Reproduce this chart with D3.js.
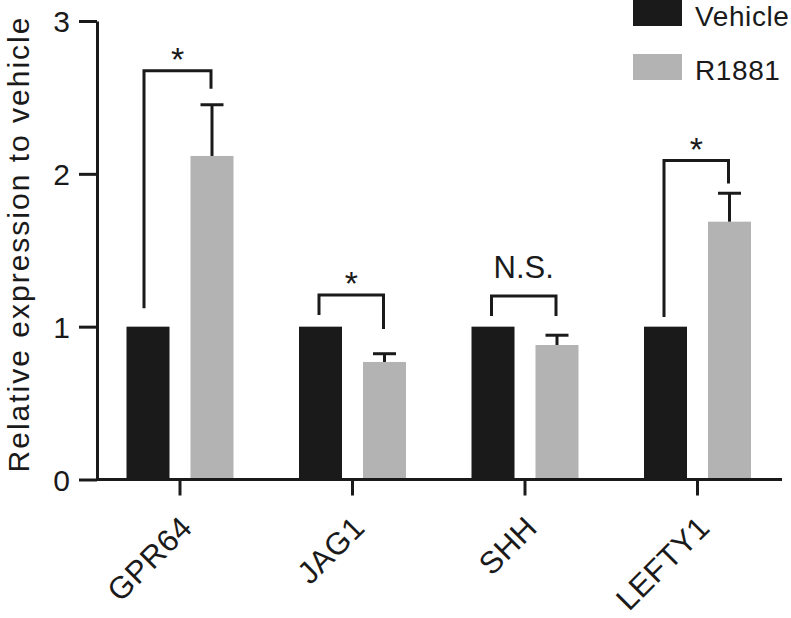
<!DOCTYPE html>
<html>
<head>
<meta charset="utf-8">
<script src="https://cdn.jsdelivr.net/npm/d3@7"></script>
<style>
  html, body { margin: 0; padding: 0; background: #fff; }
  svg { display: block; font-family: "Liberation Sans", Arial, sans-serif; }
</style>
</head>
<body>
<div class="chart"></div>
<script>
// data
const genes = ["GPR64", "JAG1", "SHH", "LEFTY1"];
const groups = ["Vehicle", "R1881"];
const vehicle = [1, 1, 1, 1];
const r1881 = [2.117, 0.769, 0.880, 1.687];
const r1881Err = [0.335, 0.054, 0.064, 0.186];
const yTicks = [0, 1, 2, 3];
const sigLabels = ["*", "*", "N.S.", "*"];
// bracket levels (data units): top line, left leg end, right leg end
const bracketTop = [2.675, 1.207, 1.200, 2.087];
const bracketLeft = [1.12, 1.076, 1.07, 1.063];
const bracketRight = [2.557, 0.985, 1.07, 1.937];

const width = 791, height = 618;
const colors = {Vehicle: "#1a1a1a", R1881: "#b3b3b3"};
const ink = "#1a1a1a";

const svg = d3.select(".chart").append("svg")
    .attr("width", width)
    .attr("height", height);

const y = d3.scaleLinear().domain([0, 3]).range([479.5, 21]);

const x0 = d3.scaleBand().domain(genes).range([93.75, 783.75]);
const x1 = d3.scaleBand().domain(groups).range([0, 107]).paddingInner(0.328);
const off = (x0.bandwidth() - 107) / 2;

const rows = genes.map((g, i) => ({
    gene: g,
    values: [
        {group: "Vehicle", value: vehicle[i], err: 0},
        {group: "R1881", value: r1881[i], err: r1881Err[i]}
    ]
}));

// bars
const grp = svg.append("g").selectAll("g")
    .data(rows)
    .join("g")
    .attr("transform", d => `translate(${x0(d.gene) + off},0)`);

grp.selectAll("rect")
    .data(d => d.values)
    .join("rect")
    .attr("x", d => x1(d.group))
    .attr("y", d => y(d.value))
    .attr("width", x1.bandwidth())
    .attr("height", d => y(0) - y(d.value))
    .attr("fill", d => colors[d.group]);

// error bars (upper only)
const eb = grp.selectAll("g.err")
    .data(d => d.values.filter(v => v.err > 0))
    .join("g")
    .attr("class", "err")
    .attr("stroke", ink)
    .attr("stroke-width", 3);
eb.append("line")
    .attr("x1", d => x1(d.group) + x1.bandwidth() / 2)
    .attr("x2", d => x1(d.group) + x1.bandwidth() / 2)
    .attr("y1", d => y(d.value))
    .attr("y2", d => y(d.value + d.err));
eb.append("line")
    .attr("x1", d => x1(d.group) + x1.bandwidth() / 2 - 11.5)
    .attr("x2", d => x1(d.group) + x1.bandwidth() / 2 + 11.5)
    .attr("y1", d => y(d.value + d.err))
    .attr("y2", d => y(d.value + d.err));

// significance brackets
const cx = (g, grpName) => x0(g) + off + x1(grpName) + x1.bandwidth() / 2;
genes.forEach((g, i) => {
    const xl = cx(g, "Vehicle") - (i === 0 ? 4 : 1.5);
    const xr = cx(g, "R1881") - 1;
    svg.append("path")
        .attr("d", d3.line()([
            [xl, y(bracketLeft[i])],
            [xl, y(bracketTop[i])],
            [xr, y(bracketTop[i])],
            [xr, y(bracketRight[i])]
        ]))
        .attr("fill", "none")
        .attr("stroke", ink)
        .attr("stroke-width", 3);
    const ns = sigLabels[i] !== "*";
    svg.append("text")
        .attr("x", (xl + xr) / 2)
        .attr("y", y(bracketTop[i]) - (ns ? 18 : 0))
        .attr("text-anchor", "middle")
        .attr("font-size", ns ? 31 : 34)
        .attr("fill", ink)
        .text(sigLabels[i]);
});

// y axis
const yAxis = svg.append("g")
    .attr("transform", "translate(97,0)")
    .call(d3.axisLeft(y).tickValues(yTicks).tickFormat(d3.format("d")).tickSize(18).tickPadding(9).tickSizeOuter(0));
yAxis.select(".domain").attr("stroke", ink).attr("stroke-width", 3);
yAxis.selectAll(".tick line").attr("stroke", ink).attr("stroke-width", 3);
yAxis.selectAll(".tick text")
    .attr("font-family", "Liberation Sans, Arial, sans-serif")
    .attr("font-size", 30)
    .attr("fill", ink)
    .attr("dy", "0.36em");

// x axis
const xAxis = svg.append("g")
    .attr("transform", `translate(0,${y(0)})`)
    .call(d3.axisBottom(x0).tickSize(16).tickSizeOuter(0));
xAxis.select(".domain")
    .attr("d", "M97,0H782")
    .attr("stroke", ink).attr("stroke-width", 3);
xAxis.selectAll(".tick line").attr("stroke", ink).attr("stroke-width", 3);
xAxis.selectAll(".tick text")
    .attr("font-family", "Liberation Sans, Arial, sans-serif")
    .attr("font-size", 31)
    .attr("letter-spacing", 0.5)
    .attr("fill", ink)
    .attr("text-anchor", "end")
    .attr("dy", null)
    .attr("y", null)
    .attr("transform", "translate(14,50) rotate(-45)");

// y axis title
svg.append("text")
    .attr("transform", "translate(29,244) rotate(-90)")
    .attr("text-anchor", "middle")
    .attr("font-size", 30)
    .attr("letter-spacing", 2)
    .attr("fill", ink)
    .text("Relative expression to vehicle");

// legend
const legend = svg.append("g").selectAll("g")
    .data(groups)
    .join("g")
    .attr("transform", (d, i) => `translate(633,${i * 54})`);
legend.append("rect")
    .attr("width", 49)
    .attr("height", 26)
    .attr("fill", d => colors[d]);
legend.append("text")
    .attr("x", 62)
    .attr("y", 26)
    .attr("font-size", 28)
    .attr("letter-spacing", 0.6)
    .attr("fill", ink)
    .text(d => d);
</script>
</body>
</html>
